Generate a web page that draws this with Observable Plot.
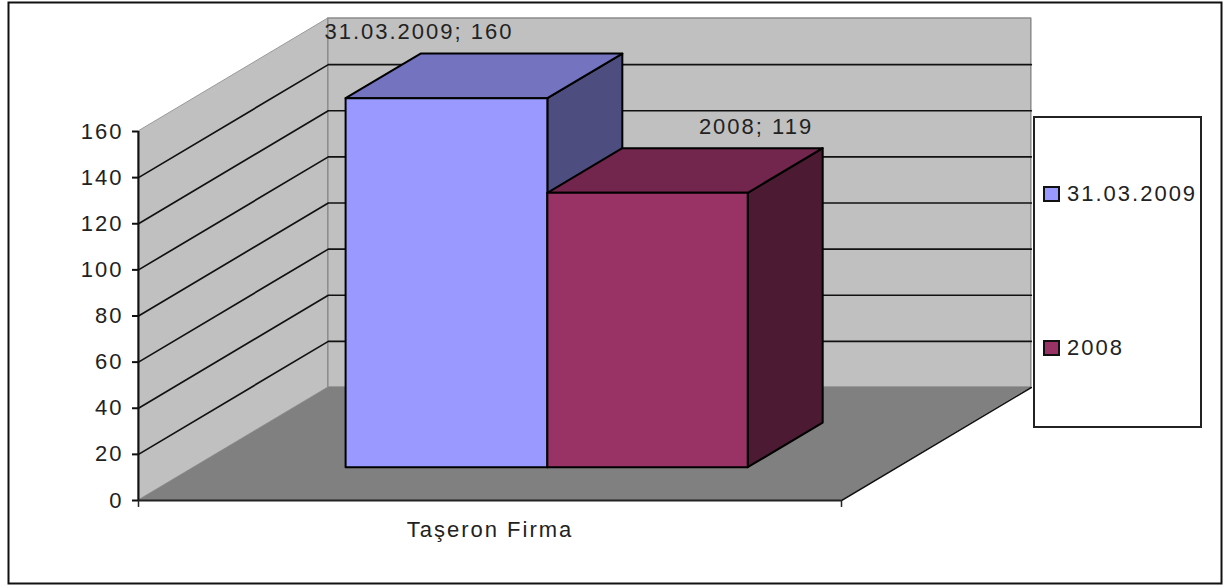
<!DOCTYPE html>
<html>
<head>
<meta charset="utf-8">
<script src="https://cdn.jsdelivr.net/npm/d3@7"></script>
<script src="https://cdn.jsdelivr.net/npm/@observablehq/plot@0.6"></script>
<style>
html,body{margin:0;padding:0;background:#fff}
#wrap{position:relative;width:1223px;height:585px;overflow:hidden;font-family:"Liberation Sans",Arial,sans-serif}
#legend{position:absolute;left:1033px;top:116px;width:165px;height:308px;background:#fff;border:2px solid #222}
.item{position:absolute;left:8px;display:flex;align-items:center;font-size:22px;letter-spacing:2px;color:#222;white-space:nowrap}
.sw{display:inline-block;width:13px;height:12px;border:2px solid #111;margin-right:7px}
</style>
</head>
<body>
<div id="wrap"><div id="chart"></div><div id="legend"></div></div>
<script>
const series = ["31.03.2009", "2008"];
const values = [160, 119];
const category = "Taşeron Firma";
const yTicks = [0, 20, 40, 60, 80, 100, 120, 140, 160];
const gridValues = [20, 40, 60, 80, 100, 120, 140];
const frontColors = ["#9999FF", "#993366"];
const topColors = ["#7373BF", "#73264D"];
const sideColors = ["#4D4D80", "#4D1A33"];

const font = '"Liberation Sans", Arial, sans-serif';
const fs = 22;
// oblique projection: depth d (0..1) shifts the category and value axes
const depthX = 0.27, depthY = 49;
const px = (c, d) => c + d * depthX;
const py = (v, d) => v + d * depthY;
const barD0 = 0.29, barD1 = 0.685;
const barEdges = [0.217, 0.504, 0.789];

// a face with two vertical edges
const vFace = (c0, d0, c1, d1, v0, v1, fill, stroke, sw = 2) => Plot.areaY(
  [{x: px(c0, d0), y1: py(v0, d0), y2: py(v1, d0)}, {x: px(c1, d1), y1: py(v0, d1), y2: py(v1, d1)}],
  {x: "x", y1: "y1", y2: "y2", fill, stroke, strokeWidth: sw});
// a face with two horizontal edges (floor, bar tops)
const hFace = (c0, c1, v, d0, d1, fill, stroke, sw = 2) => Plot.areaX(
  [{y: py(v, d0), x1: px(c0, d0), x2: px(c1, d0)}, {y: py(v, d1), x1: px(c0, d1), x2: px(c1, d1)}],
  {y: "y", x1: "x1", x2: "x2", fill, stroke, strokeWidth: sw});

const barMarks = values.flatMap((v, i) => {
  const c0 = barEdges[i], c1 = barEdges[i + 1];
  return [
    vFace(c1, barD0, c1, barD1, 0, v, sideColors[i], "#000"),
    hFace(c0, c1, v, barD0, barD1, topColors[i], "#000"),
    vFace(c0, barD0, c1, barD0, 0, v, frontColors[i], "#000")
  ];
});

const gridMarks = gridValues.map(v => Plot.line(
  [[px(0, 0), py(v, 0)], [px(0, 1), py(v, 1)], [px(1, 1), py(v, 1)]],
  {stroke: "#111", strokeWidth: 1.7}));

const labelText = {fontFamily: font, fontSize: fs, fill: "#222"};
const barLabel = (i, dx) => Plot.text([`${series[i]}; ${values[i]}`], {
  x: () => px((barEdges[i] + barEdges[i + 1]) / 2, barD1),
  y: () => py(values[i], barD1),
  text: d => d, dx, dy: -22, ...labelText
});

const chart = Plot.plot({
  width: 1223, height: 585,
  marginLeft: 138, marginRight: 382, marginTop: 131, marginBottom: 85,
  style: {background: "#fff", fontFamily: font, fontSize: fs + "px", letterSpacing: "2px", overflow: "visible"},
  x: {type: "linear", domain: [0, 1], axis: null},
  y: {type: "linear", domain: [0, 160], axis: null},
  marks: [
    Plot.frame({stroke: "#111", strokeWidth: 2, insetLeft: -130, insetTop: -129, insetRight: -380, insetBottom: -83}),
    vFace(0, 0, 0, 1, 0, 160, "#C0C0C0", "#9a9a9a", 1),
    vFace(0, 1, 1, 1, 0, 160, "#C0C0C0", "#8c8c8c", 1.5),
    hFace(0, 1, 0, 0, 1, "#808080", "none"),
    ...gridMarks,
    Plot.line([[px(1, 0), py(0, 0)], [px(1, 1), py(0, 1)]], {stroke: "#111", strokeWidth: 1.5}),
    ...barMarks,
    Plot.ruleX([0], {y1: 0, y2: 160, stroke: "#111", strokeWidth: 2}),
    Plot.ruleY([0], {x1: 0, x2: 1, stroke: "#222", strokeWidth: 2}),
    Plot.axisY({ticks: yTicks, tickSize: 6, tickPadding: 9, label: null, fontSize: fs, fill: "#222", stroke: "#111", strokeWidth: 2}),
    Plot.ruleX([0, 1], {y1: 0, y2: -3, stroke: "#222", strokeWidth: 1.5}),
    Plot.text([category], {x: () => 0.5, y: () => 0, text: d => d, dy: 29, ...labelText}),
    barLabel(0, -103),
    barLabel(1, 33)
  ]
});
document.getElementById("chart").appendChild(chart);

const legend = document.getElementById("legend");
const legendTops = [63, 217];
series.forEach((s, i) => {
  const it = document.createElement("div");
  it.className = "item";
  it.style.top = legendTops[i] + "px";
  it.innerHTML = `<span class="sw" style="background:${frontColors[i]}"></span>${s}`;
  legend.appendChild(it);
});
</script>
</body>
</html>
